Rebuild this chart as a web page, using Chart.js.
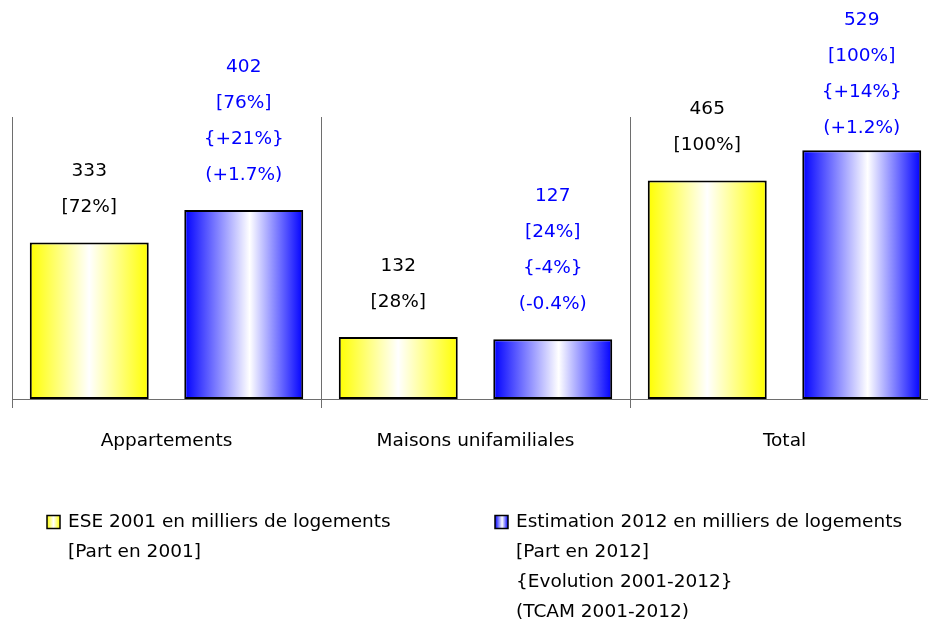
<!DOCTYPE html>
<html>
<head>
<meta charset="utf-8">
<script src="https://cdn.jsdelivr.net/npm/chart.js@4/dist/chart.umd.min.js"></script>
<style>
  html, body { margin: 0; padding: 0; background: #fff; overflow: hidden; }
  #wrap { width: 928px; height: 628px; overflow: hidden; }
</style>
</head>
<body>
<div id="wrap"><canvas id="myChart" width="940" height="628"></canvas></div>
<script>
/** 数据 */
var categories = ['Appartements', 'Maisons unifamiliales', 'Total']
var values2001 = [333, 132, 465]
var part2001 = ['[72%]', '[28%]', '[100%]']
var values2012 = [402, 127, 529]
var part2012 = ['[76%]', '[24%]', '[100%]']
var evolution = ['{+21%}', '{-4%}', '{+14%}']
var tcam = ['(+1.7%)', '(-0.4%)', '(+1.2%)']
var legend2001 = ['ESE 2001 en milliers de logements', '[Part en 2001]']
var legend2012 = ['Estimation 2012 en milliers de logements', '[Part en 2012]', '{Evolution 2001-2012}', '(TCAM 2001-2012)']

var FONT = '"DejaVu Sans", Verdana, sans-serif'
var FSIZE = 18.5
var BAR_PCT = 0.77
var YELLOW = '#ffff00'
var BLUE = '#0000ff'

Chart.defaults.font.family = FONT
Chart.defaults.font.size = FSIZE
Chart.defaults.color = '#000'

/** 每根柱子的横向渐变（边缘着色，中间白色） */
function barGradient(edge, mid) {
    return function (ctx) {
        var chart = ctx.chart
        var x = chart.scales.x
        if (!x || !chart.chartArea) return edge
        var catW = x.width / categories.length
        var slot = catW / 2
        var center = x.getPixelForValue(ctx.dataIndex) + (ctx.datasetIndex - 0.5) * slot
        var w = slot * BAR_PCT
        var g = chart.ctx.createLinearGradient(center - w / 2, 0, center + w / 2, 0)
        g.addColorStop(0, edge)
        g.addColorStop(mid, '#ffffff')
        g.addColorStop(1, edge)
        return g
    }
}

/** 柱子上方的多行标签 */
var barLabels = {
    id: 'barLabels',
    afterDatasetsDraw: function (chart) {
        var c = chart.ctx
        c.save()
        c.font = FSIZE + 'px ' + FONT
        c.textAlign = 'center'
        c.textBaseline = 'middle'
        chart.data.datasets.forEach(function (ds, di) {
            var meta = chart.getDatasetMeta(di)
            meta.data.forEach(function (bar, i) {
                var lines = di === 0
                    ? [String(values2001[i]), part2001[i]]
                    : [String(values2012[i]), part2012[i], evolution[i], tcam[i]]
                c.fillStyle = di === 0 ? '#000' : '#0000ff'
                var bottomY = bar.y - 35
                var topY = bottomY - (lines.length - 1) * 36
                // 顶部放不下时整体下移
                if (topY < 20) bottomY += 20 - topY
                for (var k = 0; k < lines.length; k++) {
                    var fromBottom = lines.length - 1 - k
                    c.fillText(lines[k], bar.x, bottomY - fromBottom * 36)
                }
            })
        })
        c.restore()
    }
}

/** 图例（多行） */
var multiLegend = {
    id: 'multiLegend',
    afterDraw: function (chart) {
        var c = chart.ctx
        c.save()
        c.font = FSIZE + 'px ' + FONT
        c.textBaseline = 'middle'
        c.textAlign = 'left'
        var items = [
            { x: 47, lines: legend2001, edge: YELLOW, mid: 0.5 },
            { x: 495, lines: legend2012, edge: BLUE, mid: 0.55 }
        ]
        items.forEach(function (it) {
            var y0 = 522
            var g = c.createLinearGradient(it.x, 0, it.x + 13, 0)
            g.addColorStop(0, it.edge)
            g.addColorStop(it.mid, '#ffffff')
            g.addColorStop(1, it.edge)
            c.fillStyle = g
            c.fillRect(it.x, y0 - 6.5, 13, 13)
            c.strokeStyle = '#000'
            c.lineWidth = 1.5
            c.strokeRect(it.x, y0 - 6.5, 13, 13)
            c.fillStyle = '#000'
            it.lines.forEach(function (t, k) {
                c.fillText(t, it.x + 21, y0 + k * 30)
            })
        })
        c.restore()
    }
}

var ctx = document.getElementById('myChart').getContext('2d')
var myChart = new Chart(ctx, {
    type: 'bar',
    data: {
        labels: categories,
        datasets: [
            {
                label: legend2001[0],
                data: values2001,
                backgroundColor: barGradient(YELLOW, 0.5),
                borderColor: '#000',
                borderWidth: 2,
                borderSkipped: false,
                categoryPercentage: 1,
                barPercentage: BAR_PCT
            },
            {
                label: legend2012[0],
                data: values2012,
                backgroundColor: barGradient(BLUE, 0.55),
                borderColor: '#000',
                borderWidth: 2,
                borderSkipped: false,
                categoryPercentage: 1,
                barPercentage: BAR_PCT
            }
        ]
    },
    options: {
        responsive: false,
        animation: false,
        devicePixelRatio: 1,
        layout: { padding: { top: 117, left: 12, right: 1, bottom: 0 } },
        plugins: {
            legend: { display: false },
            tooltip: { enabled: false }
        },
        scales: {
            x: {
                grid: { offset: true, color: '#6e6e6e', lineWidth: 1, tickLength: 9, drawOnChartArea: true },
                border: { color: '#6e6e6e', width: 1 },
                ticks: { padding: 22, color: '#000', font: { size: FSIZE } },
                afterFit: function (scale) { scale.height = 229 }
            },
            y: {
                display: false,
                min: 0,
                max: 600
            }
        }
    },
    plugins: [barLabels, multiLegend]
})
</script>
</body>
</html>
